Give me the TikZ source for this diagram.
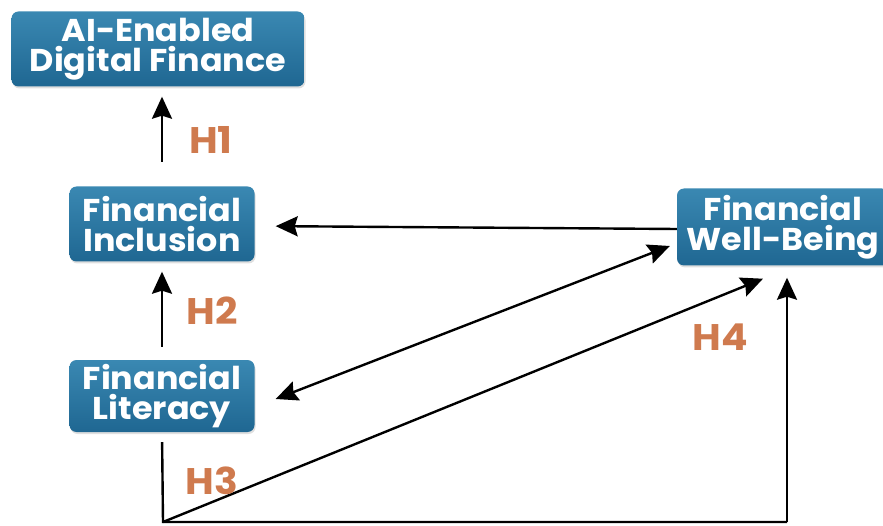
\documentclass[tikz,border=0pt]{standalone}
\usepackage{fontspec}
\setmainfont{Poppins}[BoldFont=* Bold, FakeStretch=1.06]
\usetikzlibrary{arrows.meta,shadows}
\definecolor{boxtop}{HTML}{3A88B2}
\definecolor{boxbot}{HTML}{1F6792}
\definecolor{hlab}{HTML}{CF7A4E}
\tikzset{
  boxnode/.style={rounded corners=7pt, top color=boxtop, bottom color=boxbot,
    text=white, align=center, inner sep=0pt,
    font=\bfseries\fontsize{31.5}{30}\selectfont,
    drop shadow={opacity=0.25, shadow xshift=1pt, shadow yshift=-2pt}},
  tip/.tip={Stealth[length=22pt,width=20pt,inset=3pt]},
  arr/.style={line width=2.4pt, -tip},
  plain/.style={line width=2.4pt},
  hlabel/.style={text=hlab, font=\bfseries\fontsize{37}{37}\selectfont, inner sep=0pt}
}
\begin{document}
\begin{tikzpicture}[x=1pt,y=-1pt]
\useasboundingbox (0,0) rectangle (883,526);
\clip (0,0) rectangle (883,526);
\node[boxnode, minimum width=293pt, minimum height=75pt] (ai) at (158,49) {AI-Enabled\\Digital Finance};
\node[boxnode, minimum width=185pt, minimum height=75pt] (incl) at (162,224) {Financial\\Inclusion};
\node[boxnode, minimum width=185pt, minimum height=72pt] (lit) at (162,396) {Financial\\Literacy};
\node[boxnode, minimum width=212pt, minimum height=77pt] (wb) at (783,227) {Financial\\Well-Being};
\coordinate (c1) at (163,522);
\coordinate (c2) at (787,522);

\draw[arr, shorten >=10pt, shorten <=10pt] (incl.north |- 0,172) -- (incl.north |- ai.south);
\draw[arr, shorten >=10pt, shorten <=13pt] (lit.north) -- (incl.south);
\draw[arr, shorten >=21pt] ([yshift=-2pt]wb.west) -- ([yshift=-2pt]incl.east);
\draw[arr, tip-tip] ([xshift=21pt,yshift=-3pt]lit.east) -- ([xshift=-7pt,yshift=-19pt]wb.west);
\draw[arr] (c1) -- ([xshift=-20pt,yshift=-13pt]wb.south);
\draw[plain, shorten <=10pt] (lit.south) -- (c1) -- (c2);
\draw[arr] (c2) -- ([xshift=4pt,yshift=-12pt]wb.south);

\node[hlabel] (h1) at (211,140) {H1};
\node[hlabel] (h2) at (212,311) {H2};
\node[hlabel] (h3) at (212,481) {H3};
\node[hlabel] (h4) at (720,337) {H4};
\end{tikzpicture}
\end{document}
